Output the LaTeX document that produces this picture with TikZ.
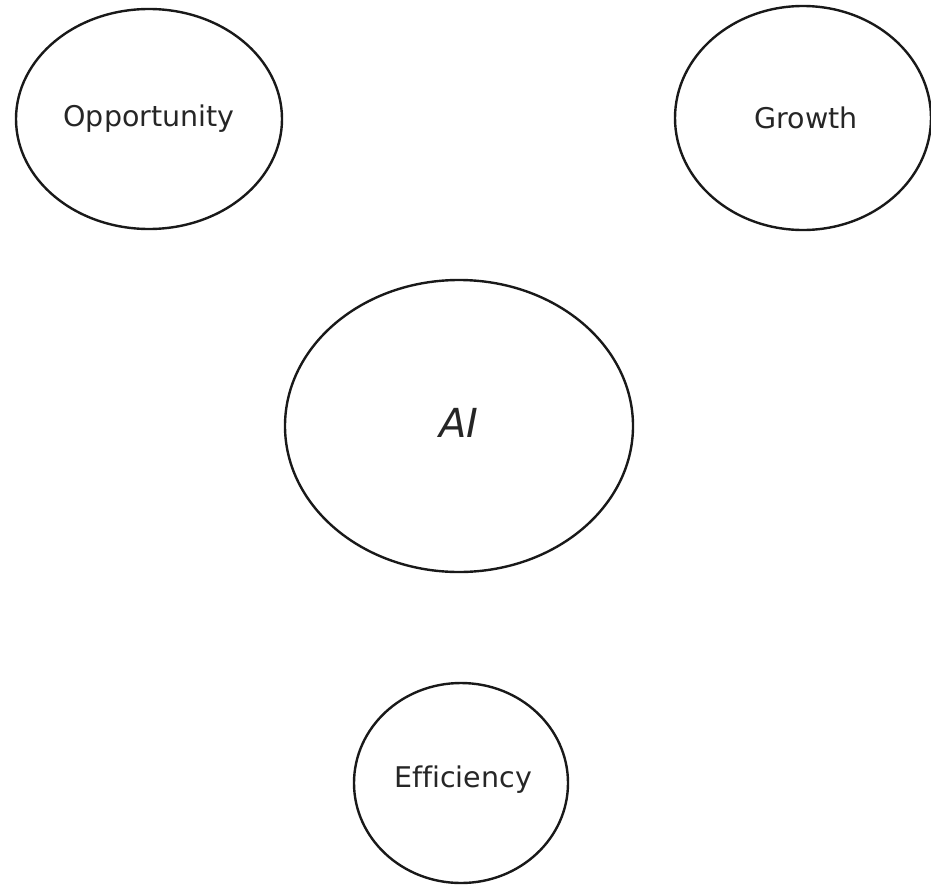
\documentclass[tikz,border=0pt]{standalone}
\usepackage{fontspec}
\setmainfont{DejaVu Sans}[Ligatures=NoCommon]
\usetikzlibrary{shapes.geometric}
\begin{document}
\begin{tikzpicture}[x=1pt,y=-1pt,
  bubble/.style={draw=black!90, line width=2.4pt, ellipse, inner sep=0pt},
  lbl/.style={font=\fontsize{28.5}{32}\selectfont, text=black!85},
  biglbl/.style={font=\fontsize{40}{44}\selectfont\itshape, text=black!85}]
\useasboundingbox (0,0) rectangle (931,886);
\node[bubble, minimum width=266pt, minimum height=220pt] (opp) at (149,119) {};
\node[lbl] (oppt) at (149,119) {Opportunity};
\node[bubble, minimum width=256pt, minimum height=224pt] (gro) at (803,118) {};
\node[lbl] (grot) at (806,118) {Growth};
\node[bubble, minimum width=348pt, minimum height=292pt] (ai) at (459,426) {};
\node[biglbl] (ait) at (459,423) {AI};
\node[bubble, minimum width=214pt, minimum height=200pt] (eff) at (461,783) {};
\node[lbl] (efft) at (463,780) {Efficiency};
\end{tikzpicture}
\end{document}
